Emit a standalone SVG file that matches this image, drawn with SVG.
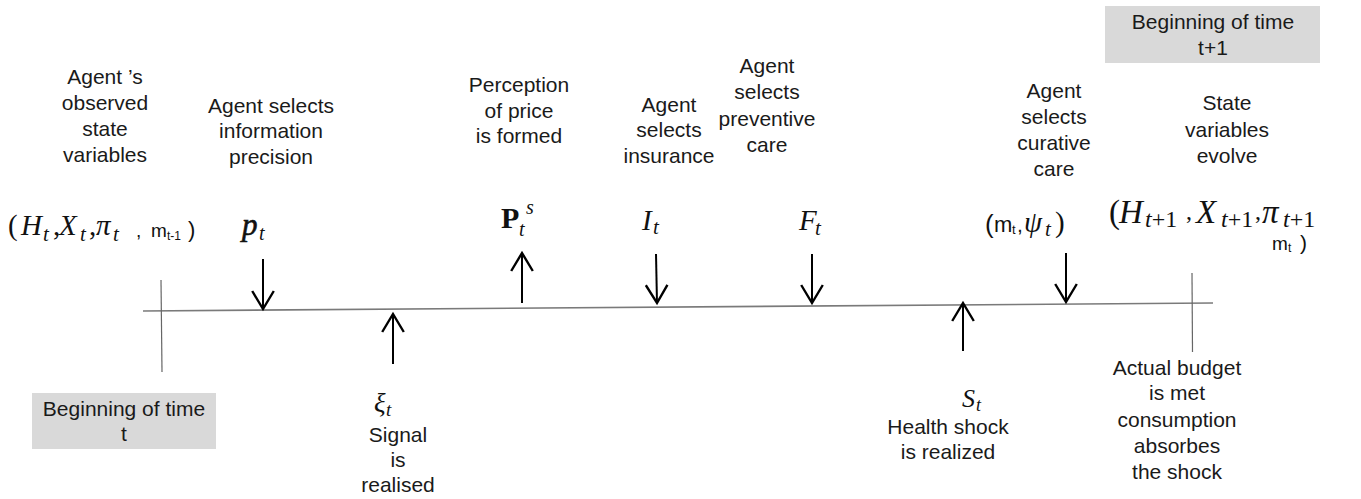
<svg xmlns="http://www.w3.org/2000/svg" width="1361" height="499" viewBox="0 0 1361 499">
<style>
.lbl{font-family:"Liberation Sans",Arial,sans-serif;font-size:21px;fill:#1a1a1a;text-anchor:middle}
.m{font-family:"Liberation Serif","Times New Roman",serif;font-style:italic;fill:#111}
.up{font-style:normal}
.ms{font-family:"Liberation Sans",Arial,sans-serif;font-style:normal;fill:#111}
.box{fill:#d9d9d9}
.arr{stroke:#000;stroke-width:2;fill:none;marker-end:url(#ah)}
.tick{stroke:#666;stroke-width:1.2}
</style>
<defs>
<marker id="ah" markerUnits="userSpaceOnUse" markerWidth="24" markerHeight="24" viewBox="0 0 20 20" refX="16" refY="10" orient="auto">
<path d="M1,1 L16,10 L1,19" fill="none" stroke="#000" stroke-width="2"/>
</marker>
</defs>
<rect width="1361" height="499" fill="#fff"/>

<g id="connectors">
<line x1="143" y1="311" x2="1213" y2="303" stroke="#7a7a7a" stroke-width="1.6"/>
<line class="tick" x1="161" y1="280" x2="162" y2="372"/>
<line class="tick" x1="1192" y1="273" x2="1192.5" y2="352"/>
<line class="arr" x1="263" y1="259" x2="263" y2="309"/>
<line class="arr" x1="393" y1="364" x2="393" y2="314" stroke-width="2.8"/>
<line class="arr" x1="522" y1="303" x2="522" y2="253"/>
<line class="arr" x1="656" y1="254" x2="657" y2="303"/>
<line class="arr" x1="812" y1="254" x2="812" y2="303"/>
<line class="arr" x1="963" y1="351" x2="963" y2="303"/>
<line class="arr" x1="1066" y1="253" x2="1066" y2="302"/>
</g>

<g id="start-box">
<rect class="box" x="32" y="393" width="184" height="56"/>
<text class="lbl" x="124" y="416">Beginning of time</text>
<text class="lbl" x="124" y="441">t</text>
</g>

<g id="end-box">
<rect class="box" x="1105" y="6" width="215" height="57"/>
<text class="lbl" x="1213" y="29">Beginning of time</text>
<text class="lbl" x="1213" y="55">t+1</text>
</g>

<g id="observed-state">
<text class="lbl" x="105" y="84">Agent ’s</text>
<text class="lbl" x="105" y="110">observed</text>
<text class="lbl" x="105" y="136">state</text>
<text class="lbl" x="105" y="162">variables</text>
<text class="m" font-size="29"><tspan class="up" x="8" y="235">(</tspan><tspan x="21" y="235">H</tspan><tspan x="43" y="241" font-size="21">t</tspan><tspan class="up" x="53" y="235">,</tspan><tspan x="59" y="235">X</tspan><tspan x="80" y="241" font-size="21">t</tspan><tspan class="up" x="89" y="235">,</tspan><tspan x="96" y="235">π</tspan><tspan x="113" y="241" font-size="21">t</tspan></text>
<text class="ms" font-size="19" x="136" y="237">,</text>
<text class="ms" font-size="19" x="151" y="237">m</text>
<text class="ms" font-size="12" x="167" y="240">t-1</text>
<text class="ms" font-size="22" x="188" y="237">)</text>
</g>

<g id="info-precision">
<text class="lbl" x="271" y="113">Agent selects</text>
<text class="lbl" x="271" y="138">information</text>
<text class="lbl" x="271" y="164">precision</text>
<text class="m" font-size="31" stroke="#111" stroke-width="0.6"><tspan x="242" y="235">p</tspan><tspan x="259" y="240" font-size="20" stroke-width="0">t</tspan></text>
</g>

<g id="signal">
<text class="m" font-size="27"><tspan x="374" y="412">ξ</tspan><tspan x="386" y="416" font-size="19">t</tspan></text>
<text class="lbl" x="398" y="442">Signal</text>
<text class="lbl" x="398" y="467">is</text>
<text class="lbl" x="398" y="492">realised</text>
</g>

<g id="price-perception">
<text class="m" font-size="30"><tspan class="up" x="501" y="228" font-weight="bold">P</tspan><tspan x="519" y="236" font-size="20">t</tspan><tspan x="526" y="214" font-size="20">s</tspan></text>
<text class="lbl" x="519" y="92">Perception</text>
<text class="lbl" x="519" y="118">of price</text>
<text class="lbl" x="519" y="143">is formed</text>
</g>

<g id="insurance">
<text class="lbl" x="669" y="112">Agent</text>
<text class="lbl" x="669" y="137">selects</text>
<text class="lbl" x="669" y="163">insurance</text>
<text class="m" font-size="29"><tspan x="642" y="230">I</tspan><tspan x="653" y="234" font-size="21">t</tspan></text>
</g>

<g id="preventive-care">
<text class="lbl" x="767" y="73">Agent</text>
<text class="lbl" x="767" y="99">selects</text>
<text class="lbl" x="767" y="126">preventive</text>
<text class="lbl" x="767" y="152">care</text>
<text class="m" font-size="29"><tspan x="799" y="230">F</tspan><tspan x="815" y="235" font-size="21">t</tspan></text>
</g>

<g id="health-shock">
<text class="m" font-size="26"><tspan x="962" y="407">S</tspan><tspan x="976" y="411" font-size="18">t</tspan></text>
<text class="lbl" x="948" y="434">Health shock</text>
<text class="lbl" x="948" y="459">is realized</text>
</g>

<g id="curative-care">
<text class="lbl" x="1054" y="98">Agent</text>
<text class="lbl" x="1054" y="124">selects</text>
<text class="lbl" x="1054" y="150">curative</text>
<text class="lbl" x="1054" y="176">care</text>
<text class="ms" font-size="26" x="985" y="233">(</text>
<text class="ms" font-size="22" x="994" y="232">m</text>
<text class="ms" font-size="13" x="1012" y="234">t</text>
<text class="ms" font-size="21" x="1017" y="232">,</text>
<text class="m" font-size="29"><tspan x="1024" y="232">ψ</tspan><tspan x="1045" y="236" font-size="21">t</tspan><tspan class="up" x="1055" y="232">)</tspan></text>
</g>

<g id="state-evolve">
<text class="lbl" x="1227" y="110">State</text>
<text class="lbl" x="1227" y="137">variables</text>
<text class="lbl" x="1227" y="163">evolve</text>
<text class="m" font-size="33"><tspan class="up" x="1109" y="223">(</tspan><tspan x="1119" y="223">H</tspan><tspan x="1145" y="227" font-size="24">t</tspan><tspan class="up" y="227" font-size="24">+1</tspan><tspan class="up" x="1186" y="219" font-size="24">,</tspan><tspan x="1196" y="223">X</tspan><tspan x="1221" y="227" font-size="24">t</tspan><tspan class="up" y="227" font-size="24">+1</tspan><tspan class="up" x="1255" y="219" font-size="24">,</tspan><tspan x="1262" y="223">π</tspan><tspan x="1283" y="227" font-size="24">t</tspan><tspan class="up" y="227" font-size="24">+1</tspan></text>
<text class="ms" font-size="19" x="1272" y="250">m</text>
<text class="ms" font-size="12" x="1288" y="252">t</text>
<text class="ms" font-size="21" x="1300" y="250">)</text>
</g>

<g id="budget">
<text class="lbl" x="1177" y="375">Actual budget</text>
<text class="lbl" x="1177" y="400">is met</text>
<text class="lbl" x="1177" y="427">consumption</text>
<text class="lbl" x="1177" y="453">absorbes</text>
<text class="lbl" x="1177" y="479">the shock</text>
</g>
</svg>
